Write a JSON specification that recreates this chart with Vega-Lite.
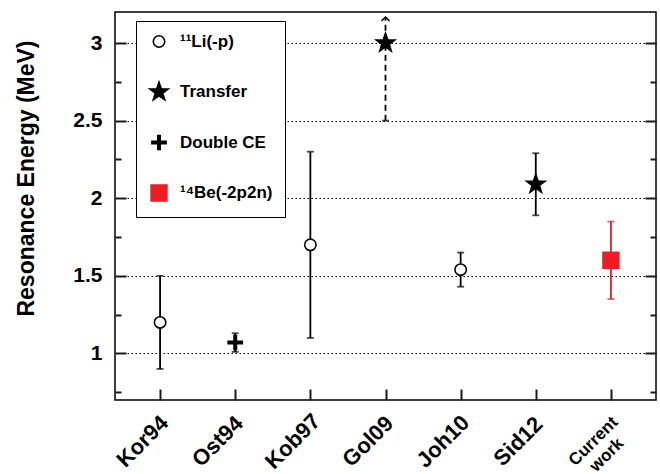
{
  "$schema": "https://vega.github.io/schema/vega-lite/v6.json",
  "width": 541,
  "height": 388,
  "autosize": {"type": "none"},
  "padding": {"left": 115, "top": 12, "right": 4, "bottom": 74},
  "config": {
    "font": "Liberation Sans",
    "view": {"stroke": "black", "strokeWidth": 1.5}
  },
  "data": {
    "values": [
      {"label": "Kor94", "type": "¹¹Li(-p)", "value": 1.2, "lo": 0.9, "hi": 1.5, "style": "solid", "arrow": "none"},
      {"label": "Ost94", "type": "Double CE", "value": 1.07, "lo": 1.01, "hi": 1.13, "style": "solid", "arrow": "none"},
      {"label": "Kob97", "type": "¹¹Li(-p)", "value": 1.7, "lo": 1.1, "hi": 2.3, "style": "solid", "arrow": "none"},
      {"label": "Gol09", "type": "Transfer", "value": 3.0, "lo": 2.5, "hi": 3.16, "style": "dashed", "arrow": "up"},
      {"label": "Joh10", "type": "¹¹Li(-p)", "value": 1.54, "lo": 1.43, "hi": 1.65, "style": "solid", "arrow": "none"},
      {"label": "Sid12", "type": "Transfer", "value": 2.09, "lo": 1.89, "hi": 2.29, "style": "solid", "arrow": "none"},
      {"label": "Current work", "type": "¹⁴Be(-2p2n)", "value": 1.6, "lo": 1.35, "hi": 1.85, "style": "solid", "arrow": "none"}
    ]
  },
  "encoding": {
    "x": {
      "field": "label",
      "type": "nominal",
      "sort": null,
      "scale": {"type": "point", "padding": 0.6},
      "axis": {
        "title": null,
        "labelAngle": -45,
        "labelAlign": "center",
        "labelBaseline": "middle",
        "labelFontSize": {"condition": {"test": "datum.value == 'Current work'", "value": 17}, "value": 22},
        "labelFontWeight": "bold",
        "labelColor": "black",
        "labelExpr": "datum.value == 'Current work' ? ['Current', 'work'] : datum.value",
        "labelLineHeight": 19,
        "labelPadding": 41,
        "labelOffset": -18,
        "labelOverlap": false,
        "labelBound": false,
        "offset": -11,
        "ticks": true,
        "tickSize": 11,
        "tickColor": "#1a1a1a",
        "tickWidth": 2,
        "tickOpacity": 1,
        "domain": false
      }
    }
  },
  "resolve": {"axis": {"y": "independent"}},
  "layer": [
    {
      "mark": {"type": "rule", "strokeWidth": 1.8},
      "encoding": {
        "y": {
          "field": "lo",
          "type": "quantitative",
          "scale": {"domain": [0.7, 3.2], "nice": false, "zero": false},
          "axis": {
            "orient": "left",
            "title": "Resonance Energy (MeV)",
            "titleFontSize": 23,
            "titleFontWeight": "bold",
            "titleColor": "black",
            "titleAngle": -90,
            "titleAlign": "center",
            "titleBaseline": "alphabetic",
            "titleX": -93,
            "titleY": 166,
            "values": [1, 1.5, 2, 2.5, 3],
            "format": "~g",
            "labelFontSize": 21,
            "labelFontWeight": "bold",
            "labelColor": "black",
            "labelPadding": 13,
            "offset": -11,
            "ticks": true,
            "tickColor": "#1a1a1a",
            "tickWidth": 2,
            "tickSize": 11,
            "tickOpacity": 1,
            "grid": true,
            "gridColor": "black",
            "gridWidth": 1,
            "gridDash": [1.5, 2.5],
            "domain": false
          }
        },
        "y2": {"field": "hi"},
        "strokeDash": {
          "field": "style",
          "type": "nominal",
          "scale": {"domain": ["solid", "dashed"], "range": [[1, 0], [6, 4]]},
          "legend": null
        },
        "color": {"condition": {"test": "datum.type == '¹⁴Be(-2p2n)'", "value": "#ee1c25"}, "value": "black"}
      }
    },
    {
      "mark": {"type": "tick", "size": 7, "thickness": 1.8},
      "encoding": {
        "y": {
          "field": "lo",
          "type": "quantitative",
          "axis": {
            "orient": "right",
            "title": null,
            "values": [1, 1.5, 2, 2.5, 3],
            "labels": false,
            "grid": false,
            "offset": -11,
            "ticks": true,
            "tickColor": "#1a1a1a",
            "tickWidth": 2,
            "tickSize": 11,
            "tickOpacity": 1,
            "domain": false
          }
        },
        "color": {"condition": {"test": "datum.type == '¹⁴Be(-2p2n)'", "value": "#ee1c25"}, "value": "black"}
      }
    },
    {
      "transform": [{"filter": "datum.arrow != 'up'"}],
      "mark": {"type": "tick", "size": 7, "thickness": 1.8},
      "encoding": {
        "y": {
          "field": "hi",
          "type": "quantitative",
          "axis": {
            "orient": "left",
            "title": null,
            "values": [0.75, 1.25, 1.75, 2.25, 2.75],
            "labels": false,
            "grid": false,
            "offset": -6,
            "ticks": true,
            "tickColor": "#1a1a1a",
            "tickWidth": 2,
            "tickSize": 6,
            "tickOpacity": 1,
            "domain": false
          }
        },
        "color": {"condition": {"test": "datum.type == '¹⁴Be(-2p2n)'", "value": "#ee1c25"}, "value": "black"}
      }
    },
    {
      "transform": [{"filter": "datum.arrow == 'up'"}],
      "mark": {"type": "point", "shape": "M-1,0.7L0,-0.3L1,0.7", "size": 64, "filled": false, "stroke": "black", "strokeWidth": 1.5, "opacity": 1},
      "encoding": {
        "y": {
          "field": "hi",
          "type": "quantitative",
          "axis": {
            "orient": "right",
            "title": null,
            "values": [0.75, 1.25, 1.75, 2.25, 2.75],
            "labels": false,
            "grid": false,
            "offset": -6,
            "ticks": true,
            "tickColor": "#1a1a1a",
            "tickWidth": 2,
            "tickSize": 6,
            "tickOpacity": 1,
            "domain": false
          }
        }
      }
    },
    {
      "mark": {"type": "point", "filled": true, "strokeWidth": 1.6, "opacity": 1},
      "encoding": {
        "y": {"field": "value", "type": "quantitative", "axis": null},
        "shape": {
          "field": "type",
          "type": "nominal",
          "scale": {
            "domain": ["¹¹Li(-p)", "Transfer", "Double CE", "¹⁴Be(-2p2n)"],
            "range": ["circle", "M0,-1L0.235,-0.324L0.951,-0.309L0.38,0.124L0.588,0.809L0,0.4L-0.588,0.809L-0.38,0.124L-0.951,-0.309L-0.235,-0.324Z", "M-1,-0.17H1V0.17H-1Z M-0.17,-1H0.17V1H-0.17Z", "square"]
          },
          "legend": {
            "title": null,
            "orient": "none",
            "legendX": 21,
            "legendY": 9,
            "strokeColor": "black",
            "fillColor": "white",
            "padding": 12,
            "rowPadding": 28,
            "labelFontSize": 17,
            "labelFontWeight": "bold",
            "labelColor": "black",
            "labelOffset": 10,
            "symbolStrokeWidth": 1.6
          }
        },
        "fill": {
          "field": "type",
          "type": "nominal",
          "scale": {"domain": ["¹¹Li(-p)", "Transfer", "Double CE", "¹⁴Be(-2p2n)"], "range": ["white", "black", "black", "#ee1c25"]}
        },
        "stroke": {
          "field": "type",
          "type": "nominal",
          "scale": {"domain": ["¹¹Li(-p)", "Transfer", "Double CE", "¹⁴Be(-2p2n)"], "range": ["black", "black", "black", "#ee1c25"]}
        },
        "size": {
          "field": "type",
          "type": "nominal",
          "scale": {"type": "ordinal", "domain": ["¹¹Li(-p)", "Transfer", "Double CE", "¹⁴Be(-2p2n)"], "range": [130, 380, 200, 250]}
        }
      }
    }
  ]
}
